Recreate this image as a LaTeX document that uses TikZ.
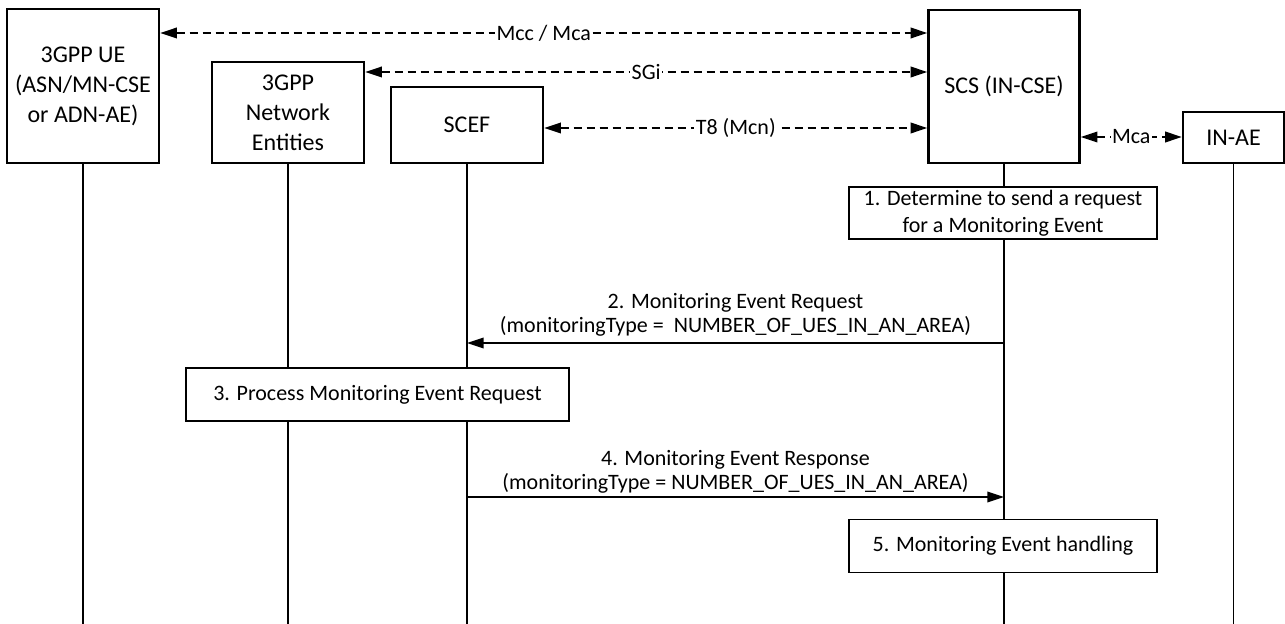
\documentclass[tikz,border=0pt]{standalone}
\usepackage{fontspec}
\setmainfont{Carlito}
\usetikzlibrary{arrows.meta}
\tikzset{
  ent/.style={draw, line width=1.8pt, align=center, inner sep=0pt,
    font=\fontsize{18}{22.5}\selectfont},
  proc/.style={draw, fill=white, line width=1pt, align=center, inner sep=0pt,
    font=\fontsize{16.5}{20.25}\selectfont},
  life/.style={line width=1.1pt},
  iface/.style={line width=1.1pt, dash pattern=on 6pt off 3.75pt,
    {Triangle[length=12.5pt,width=8pt]}-{Triangle[length=12.5pt,width=8pt]}},
  msg/.style={line width=1.1pt, -{Triangle[length=12.5pt,width=8pt]}},
  lbl/.style={fill=white, inner sep=1pt, font=\fontsize{16.5}{18}\selectfont},
  mlbl/.style={align=center, inner sep=0pt, font=\fontsize{16.5}{18}\selectfont}
}
\begin{document}
\begin{tikzpicture}[x=0.75pt, y=-0.75pt]
\useasboundingbox (0,0) rectangle (1285,624);
\coordinate (bot) at (0,624);

% entities
\node[ent, minimum width=114pt, minimum height=115.5pt] (ue) at (83,86)
  {3GPP UE\\(ASN/MN-CSE\\or ADN-AE)};
\node[ent, minimum width=114pt, minimum height=75.75pt] (net) at (288,112.5)
  {3GPP\\Network\\Entities};
\node[ent, minimum width=114pt, minimum height=57pt] (scef) at (467,125) {SCEF};
\node[ent, minimum width=113.25pt, minimum height=114.75pt] (scs) at (1004,86.5) {SCS (IN-CSE)};
\node[ent, minimum width=75.75pt, minimum height=38.25pt] (inae) at (1233.5,137.5) {IN-AE};

% lifelines
\draw[life] (ue.south) -- (ue.south |- bot);
\draw[life] (net.south) -- (net.south |- bot);
\draw[life] (scef.south) -- (scef.south |- bot);
\draw[life] (scs.south) -- (scs.south |- bot);
\draw[life] (inae.south) -- (inae.south |- bot);

% interfaces
\draw[iface] (ue.east |- 0,33) -- node[lbl] {Mcc / Mca} (scs.west |- 0,33);
\draw[iface] (net.east |- 0,72) -- node[lbl] {SGi} (scs.west |- 0,72);
\draw[iface] (scef.east |- 0,128) -- node[lbl] {T8 (Mcn)} (scs.west |- 0,128);
\draw[iface] (scs.east |- 0,137) -- node[lbl] {Mca} (inae.west |- 0,137);

% steps
\node[proc, minimum width=231pt, minimum height=39pt] (s1) at (1003,213)
  {1. Determine to send a request\\for a Monitoring Event};
\node[mlbl] (l2) at (735.5,315)
  {2. Monitoring Event Request\\(monitoringType =\ \ NUMBER\_OF\_UES\_IN\_AN\_AREA)};
\draw[msg] (scs.south |- 0,343) -- (scef.south |- 0,343);
\node[proc, minimum width=287.25pt, minimum height=39.75pt] (s3) at (377.5,394.5)
  {3. Process Monitoring Event Request};
\node[mlbl] (l4) at (735.5,472)
  {4. Monitoring Event Response\\(monitoringType = NUMBER\_OF\_UES\_IN\_AN\_AREA)};
\draw[msg] (scef.south |- 0,497) -- (scs.south |- 0,497);
\node[proc, minimum width=231pt, minimum height=39.75pt] (s5) at (1003,546)
  {5. Monitoring Event handling};
\end{tikzpicture}
\end{document}
